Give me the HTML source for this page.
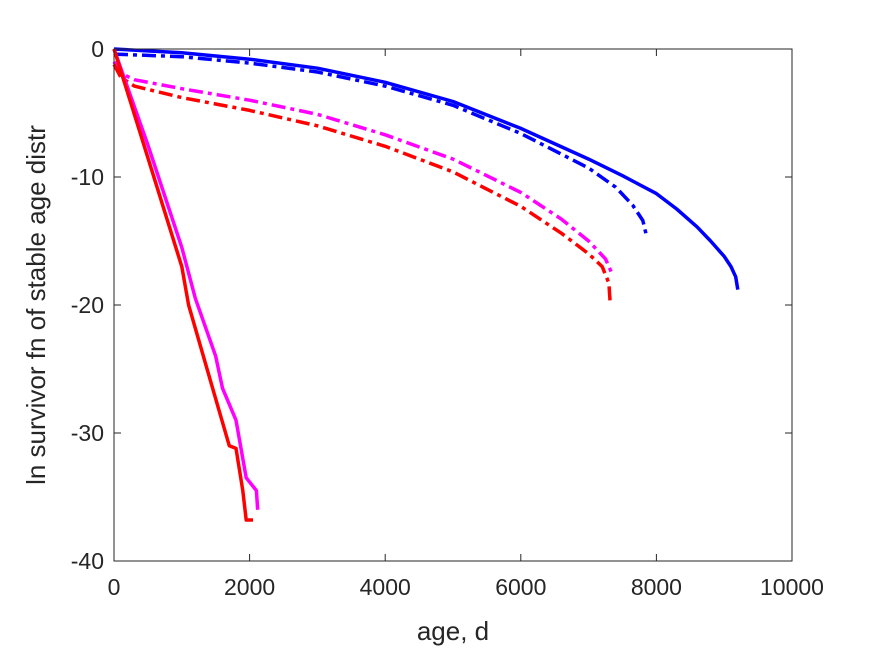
<!DOCTYPE html>
<html><head><meta charset="utf-8"><style>
body{margin:0;background:#fff;font-family:"Liberation Sans",sans-serif}
svg text{font-family:"Liberation Sans",sans-serif;fill:#262626}
</style></head><body>
<svg id="chart" width="875" height="656" xmlns="http://www.w3.org/2000/svg">
<rect width="875" height="656" fill="#fff"/>
<g id="series"></g>
<g id="axes"></g>
<text x="453" y="640" font-size="26" text-anchor="middle">age, d</text>
<text transform="translate(45,305) rotate(-90)" font-size="26" text-anchor="middle">ln survivor fn of stable age distr</text>
</svg>
<script>
const xTicks=[0,2000,4000,6000,8000,10000];
const yTicks=[0,-10,-20,-30,-40];
const blueSolid=[[0,0],[1000,-0.3],[2000,-0.8],[3000,-1.5],[4000,-2.6],[5000,-4.1],[6000,-6.2],[7000,-8.6],[7500,-9.9],[8000,-11.3],[8300,-12.5],[8600,-13.9],[8800,-15],[9000,-16.2],[9100,-17],[9170,-17.8],[9200,-18.8]];
const blueDash=[[0,-0.4],[1000,-0.6],[2000,-1.1],[3000,-1.8],[4000,-2.9],[5000,-4.4],[6000,-6.6],[7000,-9.3],[7400,-10.8],[7650,-12.2],[7800,-13.4],[7850,-14.5]];
const magentaDash=[[0,-1],[100,-1.9],[300,-2.4],[1000,-3.1],[2000,-4],[3000,-5.1],[4000,-6.7],[5000,-8.6],[6000,-11.2],[6600,-13.3],[7000,-15],[7250,-16.4],[7350,-17.6]];
const redDash=[[0,-1.2],[100,-2.2],[300,-2.9],[1000,-3.8],[2000,-4.8],[3000,-6],[4000,-7.6],[5000,-9.6],[6000,-12.3],[6600,-14.4],[7000,-16],[7200,-17],[7300,-18.3],[7320,-20]];
const magentaSolid=[[0,0],[500,-7.5],[1000,-15.5],[1200,-19.5],[1500,-24],[1600,-26.5],[1800,-29],[1950,-33.5],[2100,-34.5],[2120,-36]];
const redSolid=[[0,0],[500,-8.5],[1000,-17],[1100,-20],[1400,-25.5],[1700,-31],[1800,-31.2],[1900,-34.5],[1950,-36.8],[2050,-36.8]];
const X0=114,X1=792,Y0=49,Y1=561;
const sx=v=>X0+(v-0)/10000*(X1-X0);
const sy=v=>Y0+(0-v)/40*(Y1-Y0);
const NS="http://www.w3.org/2000/svg";
const sg=document.getElementById('series'),ag=document.getElementById('axes');
function line(d,color,dash,name){
 const p=document.createElementNS(NS,'path');
 
 
 p.setAttribute('d',d.map((q,i)=>(i?'L':'M')+sx(q[0]).toFixed(1)+','+sy(q[1]).toFixed(1)).join(''));
 p.setAttribute('fill','none');p.setAttribute('stroke',color);p.setAttribute('stroke-width','3.5');
 p.setAttribute('stroke-linejoin','round');
 if(dash)p.setAttribute('stroke-dasharray','14,5,4,5');
 sg.appendChild(p);
}
line(blueSolid,'#0000ff',false,'blue-solid-line');
line(blueDash,'#0000ff',true,'blue-dashdot-line');
line(magentaDash,'#ff00ff',true,'magenta-dashdot-line');
line(redDash,'#ff0000',true,'red-dashdot-line');
line(magentaSolid,'#ff00ff',false,'magenta-solid-line');
line(redSolid,'#ff0000',false,'red-solid-line');
const box=document.createElementNS(NS,'rect');


box.setAttribute('x',X0);box.setAttribute('y',Y0);box.setAttribute('width',X1-X0);box.setAttribute('height',Y1-Y0);
box.setAttribute('fill','none');box.setAttribute('stroke','#262626');box.setAttribute('stroke-width','1');
ag.appendChild(box);
xTicks.forEach(t=>{
 const x=sx(t);
 const l=document.createElementNS(NS,'path');
 
 
 l.setAttribute('d',`M${x},${Y1}v-7M${x},${Y0}v7`);l.setAttribute('stroke','#262626');
 ag.appendChild(l);
 const tx=document.createElementNS(NS,'text');
 
 
 tx.setAttribute('x',x);tx.setAttribute('y',Y1+34);tx.setAttribute('font-size','23');tx.setAttribute('text-anchor','middle');
 tx.textContent=t;ag.appendChild(tx);
});
yTicks.forEach(t=>{
 const y=sy(t);
 const l=document.createElementNS(NS,'path');
 
 
 l.setAttribute('d',`M${X0},${y}h7M${X1},${y}h-7`);l.setAttribute('stroke','#262626');
 ag.appendChild(l);
 const tx=document.createElementNS(NS,'text');
 
 
 tx.setAttribute('x',X0-10);tx.setAttribute('y',y+8);tx.setAttribute('font-size','23');tx.setAttribute('text-anchor','end');
 tx.textContent=t;ag.appendChild(tx);
});
</script>
</body></html>
